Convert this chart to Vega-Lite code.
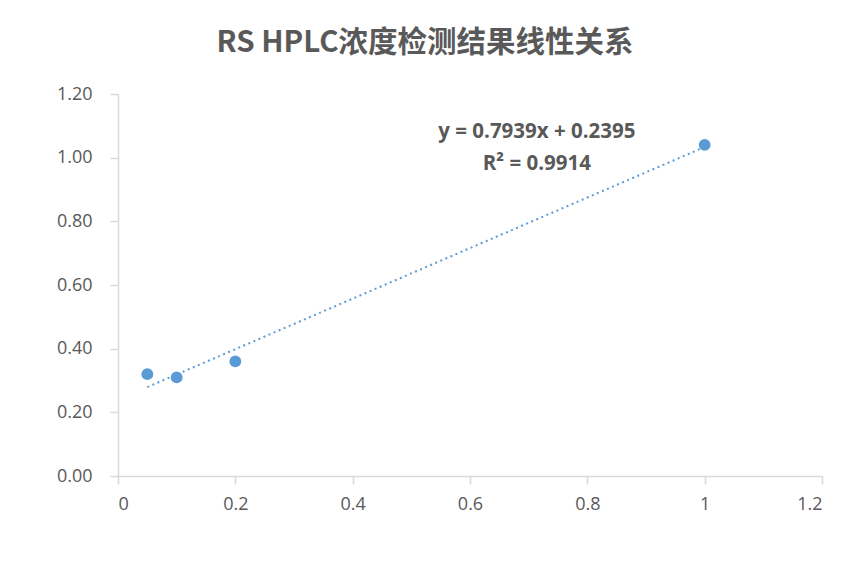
{
  "$schema": "https://vega.github.io/schema/vega-lite/v6.json",
  "width": 704,
  "height": 382,
  "autosize": "none",
  "padding": {"left": 118, "top": 94, "right": 27, "bottom": 86},
  "background": "#ffffff",
  "title": {
    "text": "RS HPLC浓度检测结果线性关系",
    "font": "Noto Sans CJK SC",
    "fontSize": 29.5,
    "fontWeight": "bold",
    "color": "#595959",
    "anchor": "middle",
    "frame": "group",
    "baseline": "alphabetic",
    "offset": 4,
    "dx": -45
  },
  "datasets": {
    "points": [
      {"conc": 0.05, "resp": 0.32},
      {"conc": 0.1, "resp": 0.31},
      {"conc": 0.2, "resp": 0.36},
      {"conc": 1.0, "resp": 1.04}
    ],
    "notes": [
      {"conc": 0.714, "resp": 1.081, "label": "y = 0.7939x + 0.2395"},
      {"conc": 0.714, "resp": 0.981, "label": "R² = 0.9914"}
    ]
  },
  "layer": [
    {
      "data": {"name": "points"},
      "transform": [
        {"regression": "resp", "on": "conc", "method": "linear"}
      ],
      "mark": {"type": "line", "color": "#5B9BD5", "strokeWidth": 2, "strokeDash": [2, 3.5], "strokeCap": "butt"},
      "encoding": {
        "x": {"field": "conc", "type": "quantitative"},
        "y": {"field": "resp", "type": "quantitative"}
      }
    },
    {
      "data": {"name": "points"},
      "mark": {"type": "point", "filled": true, "opacity": 1, "color": "#5B9BD5", "size": 140},
      "encoding": {
        "x": {
          "field": "conc",
          "type": "quantitative",
          "scale": {"domain": [0, 1.2], "nice": false, "zero": true},
          "axis": {
            "values": [0, 0.2, 0.4, 0.6, 0.8, 1, 1.2],
            "format": "~g",
            "title": null,
            "grid": false,
            "tickSize": 8,
            "labelPadding": 11
          }
        },
        "y": {
          "field": "resp",
          "type": "quantitative",
          "scale": {"domain": [0, 1.2], "nice": false},
          "axis": {
            "values": [0, 0.2, 0.4, 0.6, 0.8, 1, 1.2],
            "format": ".2f",
            "title": null,
            "grid": false,
            "tickSize": 8,
            "labelPadding": 18
          }
        }
      }
    },
    {
      "data": {"name": "notes"},
      "mark": {"type": "text", "font": "Open Sans", "fontSize": 20.5, "fontWeight": "bold", "color": "#595959", "align": "center", "baseline": "middle"},
      "encoding": {
        "x": {"field": "conc", "type": "quantitative"},
        "y": {"field": "resp", "type": "quantitative"},
        "text": {"field": "label"}
      }
    }
  ],
  "config": {
    "view": {"stroke": null},
    "axis": {
      "domainColor": "#d9d9d9",
      "domainWidth": 1.5,
      "tickColor": "#d9d9d9",
      "tickWidth": 1.5,
      "labelFont": "Open Sans",
      "labelFontSize": 18,
      "labelColor": "#595959"
    }
  }
}
